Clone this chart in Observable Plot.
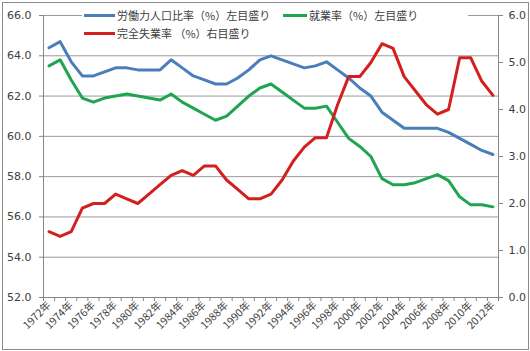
<!DOCTYPE html>
<html><head><meta charset="utf-8">
<script src="https://cdn.jsdelivr.net/npm/d3@7"></script>
<script src="https://cdn.jsdelivr.net/npm/@observablehq/plot@0.6"></script>
<style>
body{margin:0;background:#fff;}
#wrap{position:relative;width:530px;height:351px;font-family:"DejaVu Sans","Noto Sans CJK JP",sans-serif;}
#frame{position:absolute;left:2px;top:2px;width:525px;height:346px;border:1px solid #8c8c8c;pointer-events:none;}
#legend{position:absolute;left:82px;top:4px;width:386px;height:38px;background:#fff;font-family:"Noto Sans CJK JP","DejaVu Sans",sans-serif;font-size:11px;color:#404040;}
.item{position:absolute;display:flex;align-items:center;white-space:nowrap;}
.sw{display:inline-block;height:3px;margin-right:2px;}
</style></head>
<body><div id="wrap"><div id="chart"></div>
<div id="legend"></div>
<div id="frame"></div></div>
<script>
const years = d3.range(1972, 2013);
const labourRate = [64.4,64.7,63.7,63.0,63.0,63.2,63.4,63.4,63.3,63.3,63.3,63.8,63.4,63.0,62.8,62.6,62.6,62.9,63.3,63.8,64.0,63.8,63.6,63.4,63.5,63.7,63.3,62.9,62.4,62.0,61.2,60.8,60.4,60.4,60.4,60.4,60.2,59.9,59.6,59.3,59.1];
const employmentRate = [63.5,63.8,62.8,61.9,61.7,61.9,62.0,62.1,62.0,61.9,61.8,62.1,61.7,61.4,61.1,60.8,61.0,61.5,62.0,62.4,62.6,62.2,61.8,61.4,61.4,61.5,60.7,59.9,59.5,59.0,57.9,57.6,57.6,57.7,57.9,58.1,57.8,57.0,56.6,56.6,56.5];
const unemploymentRate = [1.4,1.3,1.4,1.9,2.0,2.0,2.2,2.1,2.0,2.2,2.4,2.6,2.7,2.6,2.8,2.8,2.5,2.3,2.1,2.1,2.2,2.5,2.9,3.2,3.4,3.4,4.1,4.7,4.7,5.0,5.4,5.3,4.7,4.4,4.1,3.9,4.0,5.1,5.1,4.6,4.3];
const leftTicks = [52,54,56,58,60,62,64,66];
const rightTicks = [0,1,2,3,4,5,6];
const labelYears = d3.range(1972, 2013, 2);
const seriesNames = ["労働力人口比率（%）左目盛り","就業率（%）左目盛り","完全失業率 （%）右目盛り"];
const colors = ["#4a7ebb","#1fa550","#d41f1f"];

const L0 = 52, L1 = 66, R0 = 0, R1 = 6;
const toLeft = r => L0 + (r - R0) * (L1 - L0) / (R1 - R0);
const toRight = l => R0 + (l - L0) * (R1 - R0) / (L1 - L0);

const blue = years.map((y,i)=>({year:y, v:labourRate[i]}));
const green = years.map((y,i)=>({year:y, v:employmentRate[i]}));
const red = years.map((y,i)=>({year:y, v:toLeft(unemploymentRate[i])}));
const bounds = d3.range(years[0]-0.5, years[years.length-1]+1, 1);

const axisColor = "#868686";
const chart = Plot.plot({
  width: 530, height: 351,
  marginLeft: 43, marginRight: 32, marginTop: 15, marginBottom: 54,
  style: {fontFamily: '"DejaVu Sans","Noto Sans CJK JP",sans-serif', fontSize: "11px", color: "#404040", background: "transparent"},
  x: {type: "linear", domain: [years[0]-0.5, years[years.length-1]+0.5]},
  y: {domain: [L0, L1]},
  marks: [
    Plot.gridY(leftTicks.slice(1), {stroke: "#9a9a9a", strokeOpacity: 1}),
    Plot.axisY({ticks: leftTicks, tickFormat: d => d.toFixed(1), tickSize: 4, tickPadding: 8, stroke: axisColor, label: null}),
    Plot.axisY({anchor: "right", ticks: rightTicks.map(toLeft), tickFormat: d => toRight(d).toFixed(1), tickSize: 4, tickPadding: 6, stroke: axisColor, label: null}),
    Plot.axisX({ticks: bounds, tickFormat: () => "", tickSize: 4, stroke: axisColor, label: null}),
    Plot.axisX({ticks: labelYears, tickFormat: d => d + "年", tickSize: 0, tickPadding: 6, tickRotate: -45, fontSize: "10.5px", fontFamily: '"Noto Sans CJK JP","DejaVu Sans",sans-serif', label: null}),
    Plot.ruleX([years[0]-0.5, years[years.length-1]+0.5], {stroke: axisColor}),
    Plot.ruleY([L0], {stroke: axisColor}),
    Plot.line(blue, {x: "year", y: "v", stroke: colors[0], strokeWidth: 3, strokeLinejoin: "round"}),
    Plot.line(green, {x: "year", y: "v", stroke: colors[1], strokeWidth: 3, strokeLinejoin: "round"}),
    Plot.line(red, {x: "year", y: "v", stroke: colors[2], strokeWidth: 3, strokeLinejoin: "round"})
  ]
});
document.getElementById("chart").appendChild(chart);

const legend = document.getElementById("legend");
const pos = [{l:2,t:3,w:31},{l:201,t:3,w:24},{l:2,t:21,w:31}];
seriesNames.forEach((n,i)=>{
  const d = document.createElement("div");
  d.className = "item";
  d.style.left = pos[i].l + "px"; d.style.top = pos[i].t + "px";
  d.innerHTML = `<span class="sw" style="width:${pos[i].w}px;background:${colors[i]}"></span><span>${n}</span>`;
  legend.appendChild(d);
});
</script></body></html>
